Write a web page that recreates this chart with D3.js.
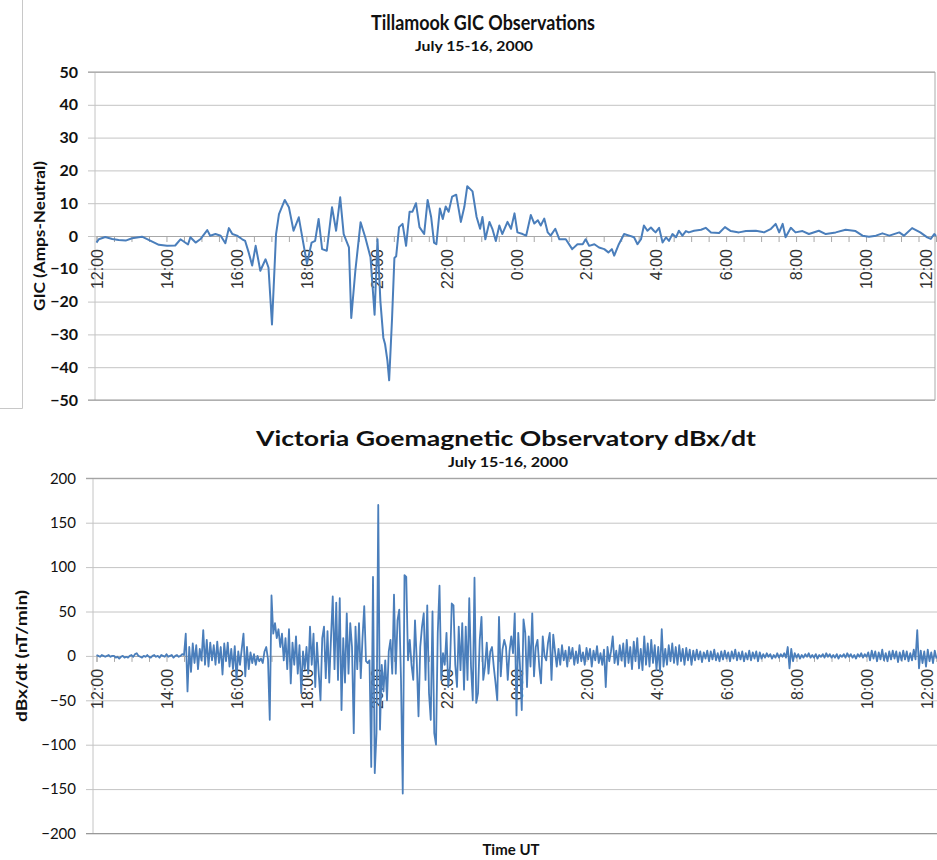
<!DOCTYPE html>
<html><head><meta charset="utf-8">
<script src="https://cdn.jsdelivr.net/npm/d3@7/dist/d3.min.js"></script>
<style>body{margin:0;background:#fff}svg{display:block}</style>
</head><body>
<svg id="chart" width="937" height="860"></svg>
<script>
// ---- data ----
const timeTickMinutes = [0,120,240,360,480,600,720,840,960,1080,1200,1320,1440];
const timeTickLabels = ["12:00","14:00","16:00","18:00","20:00","22:00","0:00","2:00","4:00","6:00","8:00","10:00","12:00"];
const gicTicks = [50,40,30,20,10,0,-10,-20,-30,-40,-50];
const dbxTicks = [200,150,100,50,0,-50,-100,-150,-200];

// Tillamook GIC: vertices (minutes after 12:00 UT, amps)
const gicMinutes = [0,4,15,27,38,50,61,78,93,107,121,135,144,157,161,170,178,190,195,204,213,221,227,233,241,250,255,261,267,273,281,290,295,301,308,313,323,330,338,347,353,361,369,375,381,387,395,404,411,418,424,433,437,444,453,461,470,477,482,487,492,495,499,502,507,511,514,519,525,531,537,542,548,554,562,568,574,579,583,589,594,599,604,610,617,625,631,636,645,652,658,662,667,674,679,685,691,696,705,711,717,722,731,737,745,751,757,762,768,774,779,787,794,805,816,825,834,839,845,854,862,871,878,884,888,896,905,914,922,928,934,939,945,951,956,959,965,971,977,982,988,994,999,1005,1011,1016,1025,1037,1045,1054,1068,1078,1088,1102,1114,1131,1145,1157,1165,1171,1177,1182,1191,1199,1211,1222,1239,1251,1268,1285,1302,1314,1325,1337,1348,1360,1377,1385,1399,1413,1425,1431,1437,1440];
const gicValues = [-2.0,-1.0,-0.3,-0.9,-1.2,-1.4,-0.7,-0.2,-1.5,-2.7,-3.0,-2.9,-1.0,-2.6,-0.4,-2.0,-1.0,1.8,0.1,0.6,0.1,-2.2,2.4,0.6,0.1,-1.0,-1.5,-5.0,-9.0,-3.0,-10.6,-7.1,-9.6,-27.0,0.6,6.7,11.0,8.8,1.6,5.7,-0.4,-8.5,-2.0,-1.5,5.2,-4.0,-4.5,8.8,1.6,11.8,0.6,-3.5,-25.0,-10.6,4.2,-0.4,-6.5,-24.0,-1.0,-20,-31,-33,-38,-44,-25,-6.7,-6.2,2.7,3.7,-3.0,7.4,7.4,10.0,2.7,0.6,11.0,5.8,-2.0,-2.5,8.4,5.2,9.0,7.4,12.0,12.6,4.3,8.9,15.2,13.6,5.8,2.2,5.8,-1.0,4.3,2.2,-1.5,3.2,0.6,4.3,2.2,6.9,1.1,0.6,0.1,6.4,3.8,4.8,3.2,5.3,1.1,0.1,2.2,-1.0,-1.0,-4.0,-2.5,-2.5,-1.0,-3.0,-2.5,-3.5,-4.0,-5.0,-4.0,-6.0,-2.5,0.6,0.1,-0.4,-2.5,-1.0,3.2,1.6,2.6,1.6,1.1,2.5,-2.0,-0.4,-1.5,0.6,-0.4,1.6,0.1,1.5,1.1,1.6,1.9,2.5,1.1,0.9,2.7,1.5,1.1,1.5,1.6,1.1,2.2,3.7,1.1,3.7,-0.4,2.5,1.1,1.5,0.6,1.6,0.6,1.1,1.9,1.5,0.1,-0.2,0.1,0.8,0.1,1.1,0.1,2.4,1.1,-0.4,-0.9,0.6,0];

// Victoria dBx/dt: one value every 3 minutes from 12:00 UT (nT/min)
const dbxStepMinutes = 3;
const dbxValues = [
1,0,-1,1,0,-1,0,1,-1,0,
0,-2,-1,-3,-1,0,-2,-1,-2,0,
1,-1,2,3,0,-1,-2,0,-1,1,
-1,-2,0,1,-1,0,-2,1,0,-1,
2,-1,0,1,-2,0,1,-1,0,2,
1,25,-40,10,-18,14,-8,12,-15,8,
-5,29,-10,18,-12,15,-5,12,-10,16,
-8,10,-21,14,-6,15,-12,8,-15,11,
-27,5,-10,8,25,-23,10,-15,4,-8,
2,-10,0,-6,-3,-8,5,10,-4,-72,
68,25,37,20,30,10,25,-5,20,-15,
30,-31,15,-10,22,-20,12,-42,5,-15,
10,-20,33,-10,25,-35,15,-20,-50,20,
33,-25,28,-30,20,67,-15,60,-27,65,
-61,20,-30,48,-20,37,10,-87,33,-15,
37,-25,20,56,-6,-8,-5,-125,89,-132,
-87,170,-83,-10,-40,-5,-50,5,18,-20,
69,-20,40,52,-27,-155,91,89,-5,18,
-10,-27,40,-5,-68,10,33,48,-27,57,
-42,-72,50,-87,-100,26,79,-27,3,-10,
26,-35,-12,59,57,-10,-35,33,-16,37,
-38,33,-27,65,-12,-50,88,-53,-42,18,
44,-27,-12,15,-20,5,10,-12,-30,-50,
44,-23,7,18,10,-27,5,22,3,48,
-67,26,-12,-61,41,26,-35,22,-12,48,
-23,10,18,-12,-31,22,0,-5,15,26,
-27,24,5,-12,8,-10,12,-5,6,-12,
10,-3,9,-10,5,-8,12,-6,4,-10,
9,-4,8,-12,6,-5,11,-8,3,-10,
7,-35,10,-6,5,22,-8,6,-10,12,
-5,14,-12,18,-8,10,-15,16,-6,20,
-14,8,-16,22,-10,14,-12,18,-8,12,
-16,10,-18,30,-12,8,-10,12,-6,14,
-8,10,-10,12,-6,8,-10,9,-5,7,
-10,6,-5,7,-4,5,-7,4,-3,6,
-6,5,-4,7,-5,3,-6,5,-4,6,
-3,4,-6,5,-3,7,-5,4,-4,5,
-6,3,-4,6,-5,4,-3,5,-6,4,
-3,2,-2,3,-1,2,-3,1,-2,3,
-2,2,-1,3,-2,10,-14,8,-6,3,
-2,2,-3,1,-2,2,-1,3,-2,1,
-2,2,-3,1,-1,2,-2,3,-1,2,
-2,1,-2,2,-3,1,-1,2,-2,3,
-1,2,-2,1,-3,2,-1,3,-2,2,
-1,4,-5,6,-3,5,-6,4,-4,7,
-5,3,-6,5,-4,6,-3,5,-7,4,
-5,6,-4,5,-6,3,-5,7,-4,29,
-14,6,-8,5,-12,7,-6,4,-8,6,
-3];

// ---- drawing ----
const svg = d3.select("#chart");
const lineColor = "#4a7ebb";
const gridColor = "#c4c4c4";
const halfHourTicks = d3.range(0, 1441, 30);
const labelByMinute = new Map(timeTickMinutes.map((m, i) => [m, timeTickLabels[i]]));

function drawPanel(o) {
  const g = svg.append("g");
  const x = d3.scaleLinear().domain([0, 1440]).range([o.x0, o.x1]);
  const y = d3.scaleLinear().domain(o.yDomain).range([o.yBottom, o.yTop]);

  // horizontal gridlines + y tick labels
  const yAxis = d3.axisLeft(y).tickValues(o.yTicks)
    .tickSize(-(o.plotRight - o.plotLeft + 7)).tickPadding(10)
    .tickFormat(d3.format("d"));
  const ya = g.append("g").attr("transform", `translate(${o.plotLeft - 7},0)`).call(yAxis);
  ya.select(".domain").remove();
  ya.selectAll(".tick line").attr("stroke", gridColor).attr("stroke-width", 1);
  ya.selectAll(".tick text")
    .attr("font-family", "Lato, 'Open Sans', sans-serif")
    .attr("font-size", o.yFontSize).attr("font-weight", o.yBold ? 700 : 400)
    .attr("fill", "#111");

  // plot frame
  g.append("line").attr("x1", o.plotLeft).attr("x2", o.plotLeft)
    .attr("y1", o.yTop).attr("y2", o.yBottom).attr("stroke", gridColor);
  g.append("line").attr("x1", o.plotLeft - 7).attr("x2", o.plotRight)
    .attr("y1", o.yTop).attr("y2", o.yTop).attr("stroke", "#999");
  g.append("line").attr("x1", o.plotLeft - 7).attr("x2", o.plotRight)
    .attr("y1", o.yBottom).attr("y2", o.yBottom).attr("stroke", "#999");
  if (o.rightBorder) {
    g.append("line").attr("x1", o.plotRight).attr("x2", o.plotRight)
      .attr("y1", o.yTop).attr("y2", o.yBottom).attr("stroke", "#aaa");
  }

  // time axis at zero
  const xAxis = d3.axisBottom(x).tickValues(halfHourTicks)
    .tickSize(6).tickFormat(d => labelByMinute.get(d) || "");
  const xa = g.append("g").attr("transform", `translate(0,${y(0)})`).call(xAxis);
  xa.select(".domain").attr("stroke", "#a8a8a8");
  xa.selectAll(".tick line").attr("stroke", "#a8a8a8");
  xa.selectAll(".tick text")
    .attr("transform", "rotate(-90)")
    .attr("x", -13).attr("y", d => d === 1440 ? -10 : 0).attr("dy", "0.36em")
    .style("text-anchor", "end")
    .attr("font-family", "'Liberation Sans', Arial, sans-serif")
    .attr("font-size", 16).attr("fill", "#333");

  // series line
  const line = d3.line().x(o.xOf(x)).y(d => y(d));
  g.append("path").datum(o.values).attr("d", line)
    .attr("fill", "none").attr("stroke", lineColor)
    .attr("stroke-width", o.strokeWidth).attr("stroke-linejoin", "round");

  // titles
  g.append("text").attr("x", o.titleX).attr("y", o.titleY)
    .attr("text-anchor", "middle").attr("font-family", "Lato, sans-serif")
    .attr("font-weight", 700).attr("font-size", 21).attr("fill", "#111")
    .attr("textLength", o.titleLen).attr("lengthAdjust", "spacingAndGlyphs")
    .text(o.title);
  g.append("text").attr("x", o.subX).attr("y", o.subY)
    .attr("text-anchor", "middle").attr("font-family", "Lato, sans-serif")
    .attr("font-weight", 700).attr("font-size", 14).attr("fill", "#111")
    .attr("textLength", o.subLen).attr("lengthAdjust", "spacingAndGlyphs")
    .text("July 15-16, 2000");

  // y axis title
  g.append("text")
    .attr("transform", `translate(${o.yLabelX},${y(0)}) rotate(-90)`)
    .attr("text-anchor", "middle").attr("dy", "0.35em")
    .attr("font-family", "Lato, sans-serif").attr("font-weight", 700)
    .attr("font-size", 15).attr("fill", "#111")
    .attr("textLength", o.yLabelLen).attr("lengthAdjust", "spacingAndGlyphs")
    .text(o.yLabel);
  return {x, y};
}

// top panel
drawPanel({
  x0: 96.5, x1: 936, plotLeft: 95, plotRight: 935,
  yDomain: [-50, 50], yBottom: 400, yTop: 72, yTicks: gicTicks,
  yFontSize: 16, yBold: true, rightBorder: true,
  values: gicValues, xOf: x => (d, i) => x(gicMinutes[i]), strokeWidth: 2,
  title: "Tillamook GIC Observations", titleX: 483, titleY: 30, titleLen: 224,
  subX: 474, subY: 51, subLen: 118,
  yLabel: "GIC (Amps-Neutral)", yLabelX: 40, yLabelLen: 150
});

// bottom panel
drawPanel({
  x0: 96.5, x1: 936.5, plotLeft: 93, plotRight: 937,
  yDomain: [-200, 200], yBottom: 833.5, yTop: 478.3, yTicks: dbxTicks,
  yFontSize: 15, yBold: false, rightBorder: false,
  values: dbxValues, xOf: x => (d, i) => x(i * dbxStepMinutes), strokeWidth: 1.8,
  title: "Victoria Goemagnetic Observatory dBx/dt", titleX: 506, titleY: 446, titleLen: 500,
  subX: 508, subY: 467, subLen: 120,
  yLabel: "dBx/dt (nT/min)", yLabelX: 22, yLabelLen: 132
});

// x axis title
svg.append("text").attr("x", 511).attr("y", 855).attr("text-anchor", "middle")
  .attr("font-family", "Lato, sans-serif").attr("font-weight", 700)
  .attr("font-size", 15).attr("fill", "#111").text("Time UT");

// embedded frame corner of the upper picture
svg.append("path").attr("d", "M22.5,0 V408.5 H0")
  .attr("fill", "none").attr("stroke", "#c8c8c8");
</script>
</body></html>
